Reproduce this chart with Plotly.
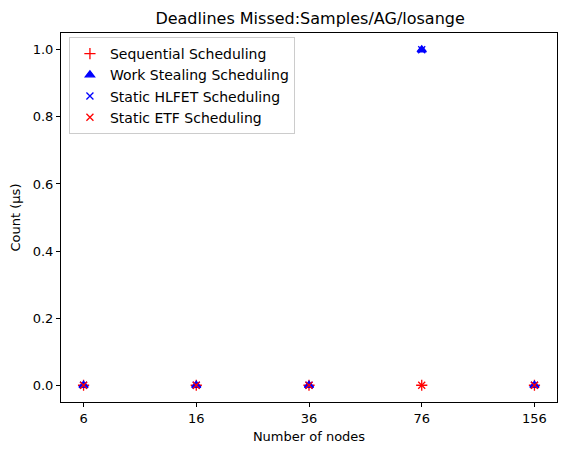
import plotly.graph_objects as go

# Daten
nodes = ["6", "16", "36", "76", "156"]
sequential = [0, 0, 0, 0, 0]
work_stealing = [0, 0, 0, 1, 0]
static_hlfet = [0, 0, 0, 1, 0]
static_etf = [0, 0, 0, 0, 0]

series = [
    ("Sequential Scheduling", sequential, "cross-thin", "#ff0000", 8),
    ("Work Stealing Scheduling", work_stealing, "triangle-up", "#0000ff", 8),
    ("Static HLFET Scheduling", static_hlfet, "x-thin", "#0000ff", 7),
    ("Static ETF Scheduling", static_etf, "x-thin", "#ff0000", 7),
]

fig = go.Figure()
for name, vals, sym, col, size in series:
    fig.add_trace(go.Scatter(
        x=nodes, y=vals, mode="markers", name=name,
        marker=dict(symbol=sym, color=col, size=size,
                    line=dict(color=col, width=1.3)),
    ))

axis_style = dict(
    showline=True, linecolor="black", linewidth=1, mirror=True,
    ticks="outside", ticklen=4, tickcolor="black", showgrid=False,
    zeroline=False, tickfont=dict(size=13, color="black"),
    automargin=False,
)

# Seite hat 8px Rand im Browser -> Ränder entsprechend verschoben
fig.update_layout(
    width=570, height=455,
    margin=dict(l=53, r=21, t=25, b=61),
    paper_bgcolor="white", plot_bgcolor="white",
    font=dict(family="DejaVu Sans", size=13, color="black"),
    title=dict(text="Deadlines Missed:Samples/AG/losange", x=0.53, xanchor="center",
               y=0.978, yanchor="middle", font=dict(size=16)),
    xaxis=dict(type="category", range=[-0.2, 4.2], ticklabelstandoff=0,
               title=dict(text="Number of nodes", standoff=7, font=dict(size=13)),
               **axis_style),
    yaxis=dict(range=[-0.05, 1.05], tickvals=[0, 0.2, 0.4, 0.6, 0.8, 1.0],
               tickformat=".1f", ticklabelstandoff=0,
               title=dict(text="Count (µs)", standoff=10, font=dict(size=13)),
               **axis_style),
    legend=dict(x=0.016, y=0.989, xanchor="left", yanchor="top",
                bordercolor="#cccccc", borderwidth=1, bgcolor="white",
                font=dict(size=14), itemwidth=30),
    showlegend=True,
)

fig.write_html("out.html")
